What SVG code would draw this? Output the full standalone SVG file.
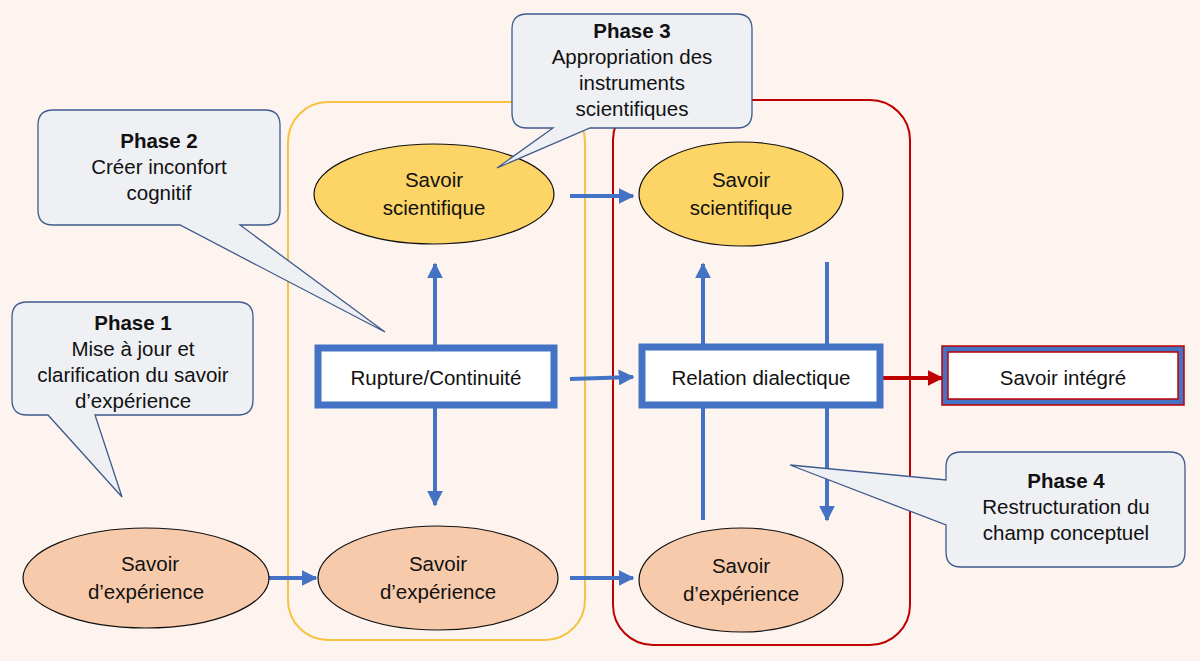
<svg xmlns="http://www.w3.org/2000/svg" width="1200" height="661" viewBox="0 0 1200 661">
<defs>
<marker id="ab" viewBox="0 0 10 10" refX="9" refY="5" markerWidth="4" markerHeight="4" orient="auto"><path d="M0,0L10,5L0,10z" fill="#4472c4"/></marker>
<marker id="ar" viewBox="0 0 10 10" refX="9" refY="5" markerWidth="4" markerHeight="4" orient="auto"><path d="M0,0L10,5L0,10z" fill="#c00000"/></marker>
<style>
text{font-family:"Liberation Sans",Arial,sans-serif;font-size:20.5px;fill:#111;text-anchor:middle}
.b{font-weight:bold}
.call{fill:#eef0f4;stroke:#3e5a8c;stroke-width:1.3}
.sci{fill:#fdd466;stroke:#111;stroke-width:1.2}
.exp{fill:#f7caab;stroke:#111;stroke-width:1.2}
.con{stroke:#4472c4;stroke-width:4;fill:none}
.box{fill:#fff;stroke:#4472c4;stroke-width:7}
</style>
</defs>
<rect width="1200" height="661" fill="#fdf4ef"/>
<g id="containers">
<rect x="288" y="102" width="297" height="538" rx="40" fill="none" stroke="#f5c242" stroke-width="2"/>
<rect x="613" y="100" width="297" height="545" rx="40" fill="none" stroke="#c00000" stroke-width="2"/>
</g>
<g id="connectors">
<line class="con" x1="435" y1="347" x2="435" y2="264" marker-end="url(#ab)"/>
<line class="con" x1="435" y1="405" x2="435" y2="505" marker-end="url(#ab)"/>
<line class="con" x1="570" y1="196" x2="633" y2="196" marker-end="url(#ab)"/>
<line class="con" x1="570" y1="379" x2="633" y2="377" marker-end="url(#ab)"/>
<line class="con" x1="570" y1="578" x2="633" y2="578" marker-end="url(#ab)"/>
<line class="con" x1="268" y1="578" x2="316" y2="578" marker-end="url(#ab)"/>
<line class="con" x1="703" y1="520" x2="703" y2="264" marker-end="url(#ab)"/>
<line class="con" x1="827" y1="262" x2="827" y2="520" marker-end="url(#ab)"/>
<line x1="882" y1="378" x2="942" y2="378" stroke="#c00000" stroke-width="4" marker-end="url(#ar)"/>
</g>
<g id="sci1"><ellipse class="sci" cx="434" cy="194" rx="120" ry="50"/><text x="434" y="187">Savoir</text><text x="434" y="215">scientifique</text></g>
<g id="sci2"><ellipse class="sci" cx="741" cy="194" rx="102" ry="52"/><text x="741" y="187">Savoir</text><text x="741" y="215">scientifique</text></g>
<g id="exp1"><ellipse class="exp" cx="146" cy="578" rx="123" ry="50"/><text x="150" y="571">Savoir</text><text x="146" y="599">d’expérience</text></g>
<g id="exp2"><ellipse class="exp" cx="438" cy="578" rx="120" ry="52"/><text x="438" y="571">Savoir</text><text x="438" y="599">d’expérience</text></g>
<g id="exp3"><ellipse class="exp" cx="741" cy="580" rx="102" ry="52"/><text x="741" y="573">Savoir</text><text x="741" y="601">d’expérience</text></g>
<g id="rupture"><rect class="box" x="318" y="348" width="236" height="57"/><text x="436" y="385">Rupture/Continuité</text></g>
<g id="relation"><rect class="box" x="642" y="347" width="238" height="58"/><text x="761" y="385">Relation dialectique</text></g>
<g id="integre"><rect x="942" y="346" width="242" height="59" fill="#4472c4" stroke="#c00000" stroke-width="1.5"/><rect x="948" y="352" width="230" height="47" fill="#fff" stroke="#c00000" stroke-width="1.5"/><text x="1063" y="385">Savoir intégré</text></g>
<g id="phase1"><path class="call" d="M27,302H238Q253,302 253,317V400Q253,415 238,415H95L122,497L48,415H27Q12,415 12,400V317Q12,302 27,302Z"/>
<text class="b" x="133" y="330">Phase 1</text><text x="133" y="356">Mise à jour et</text><text x="133" y="382">clarification du savoir</text><text x="133" y="408">d’expérience</text></g>
<g id="phase2"><path class="call" d="M53,110H265Q280,110 280,125V210Q280,225 265,225H240L385,332L180,225H53Q38,225 38,210V125Q38,110 53,110Z"/>
<text class="b" x="159" y="148">Phase 2</text><text x="159" y="174">Créer inconfort</text><text x="159" y="200">cognitif</text></g>
<g id="phase3"><path class="call" d="M527,14H737Q752,14 752,29V113Q752,128 737,128H590L497,168L553,128H527Q512,128 512,113V29Q512,14 527,14Z"/>
<text class="b" x="632" y="38">Phase 3</text><text x="632" y="64">Appropriation des</text><text x="632" y="90">instruments</text><text x="632" y="116">scientifiques</text></g>
<g id="phase4"><path class="call" d="M961,452H1170Q1185,452 1185,467V552Q1185,567 1170,567H961Q946,567 946,552V525L790,465L946,480V467Q946,452 961,452Z"/>
<text class="b" x="1066" y="488">Phase 4</text><text x="1066" y="514">Restructuration du</text><text x="1066" y="540">champ conceptuel</text></g>
</svg>
